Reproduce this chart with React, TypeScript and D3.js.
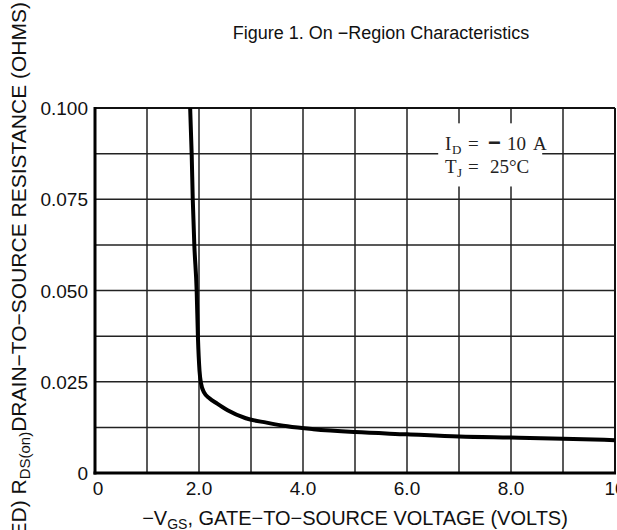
import React from "react";
import * as d3 from "d3";

const vgs = [1.83, 1.86, 1.88, 1.91, 1.955, 1.98, 2.01, 2.04, 2.1, 2.2, 2.35, 2.55, 2.9, 3.3, 3.7, 4.2, 5.0, 6.0, 7.0, 8.0, 9.0, 10.0];
const rds = [0.1, 0.087, 0.075, 0.0625, 0.05, 0.037, 0.028, 0.0245, 0.022, 0.0205, 0.019, 0.0172, 0.015, 0.0138, 0.0128, 0.012, 0.0112, 0.0106, 0.01, 0.0097, 0.0094, 0.009];
const xTicks = [0, 2, 4, 6, 8, 10];
const xTickLabels = ["0", "2.0", "4.0", "6.0", "8.0", "10"];
const yTicks = [0, 0.025, 0.05, 0.075, 0.1];
const yTickLabels = ["0", "0.025", "0.050", "0.075", "0.100"];
const xGrid = d3.range(0, 11, 1);
const yGrid = d3.range(0, 9, 1).map((i) => i * 0.0125);

const W = 617, H = 530;
const L = 95, R = 615, T = 108, B = 473;

export default function App() {
  const x = d3.scaleLinear().domain([0, 10]).range([L, R]);
  const y = d3.scaleLinear().domain([0, 0.1]).range([B, T]);
  const line = d3.line<number>().x((_, i) => x(vgs[i])).y((d) => y(d)).curve(d3.curveMonotoneX);
  const font = "'Liberation Sans', Arial, sans-serif";
  const serif = "'Liberation Serif', 'DejaVu Serif', serif";
  return (
    <svg width={W} height={H} style={{ position: "absolute", left: 0, top: 0, background: "#fff" }}>
      <text x={381} y={39} textAnchor="middle" fontFamily={font} fontSize={18} fill="#111">
        Figure 1. On −Region Characteristics
      </text>
      {xGrid.map((v) => (
        <line key={"gx" + v} x1={x(v)} x2={x(v)} y1={T} y2={B} stroke="#222" strokeWidth={1.5} />
      ))}
      {yGrid.map((v) => (
        <line key={"gy" + v} x1={L} x2={R} y1={y(v)} y2={y(v)} stroke="#222" strokeWidth={1.5} />
      ))}
      <line x1={L} x2={R} y1={T} y2={T} stroke="#111" strokeWidth={2} />
      <line x1={R} x2={R} y1={T} y2={B} stroke="#111" strokeWidth={2} />
      <line x1={L} x2={L} y1={T - 1} y2={B + 1.5} stroke="#000" strokeWidth={3} />
      <line x1={L - 1.5} x2={R + 1} y1={B} y2={B} stroke="#000" strokeWidth={3} />
      <path d={line(rds) || ""} fill="none" stroke="#000" strokeWidth={4} strokeLinejoin="round" />
      <rect x={x(6.6)} y={y(0.0958)} width={x(8.6) - x(6.6)} height={y(0.0785) - y(0.0958)} fill="#fff" />
      <text y={150} fontFamily={serif} fontSize={19} fill="#222">
        <tspan x={445}>I</tspan>
        <tspan x={452} fontSize={13} dy={4}>D</tspan>
        <tspan x={468} dy={-4}>=</tspan>
        <tspan x={488} fontFamily={font} fontWeight="bold" fontSize={22}>−</tspan>
        <tspan x={507}>10</tspan>
        <tspan x={533}>A</tspan>
      </text>
      <text y={173} fontFamily={serif} fontSize={19} fill="#222">
        <tspan x={445}>T</tspan>
        <tspan x={457} fontSize={13} dy={4}>J</tspan>
        <tspan x={468} dy={-4}>=</tspan>
        <tspan x={490}>25°C</tspan>
      </text>
      {xTicks.map((v, i) => (
        <text key={"xt" + v} x={x(v) + (i === 0 ? 3 : 0)} y={495} textAnchor="middle" fontFamily={font} fontSize={19} fill="#111">
          {xTickLabels[i]}
        </text>
      ))}
      {yTicks.map((v, i) => (
        <text key={"yt" + v} x={88} y={y(v) + 7} textAnchor="end" fontFamily={font} fontSize={19} fill="#111">
          {yTickLabels[i]}
        </text>
      ))}
      <text x={355} y={525} textAnchor="middle" fontFamily={font} fontSize={20} fill="#111">
        −V<tspan fontSize={14} dy={4}>GS</tspan><tspan dy={-4}>, GATE−TO−SOURCE VOLTAGE (VOLTS)</tspan>
      </text>
      <text transform="translate(26,2) rotate(-90)" textAnchor="end" fontFamily={font} fontSize={21} fill="#111">
        (NORMALIZED) R<tspan fontSize={15} dy={4}>DS(on)</tspan><tspan dy={-4}>DRAIN−TO−SOURCE RESISTANCE (OHMS)</tspan>
      </text>
    </svg>
  );
}
